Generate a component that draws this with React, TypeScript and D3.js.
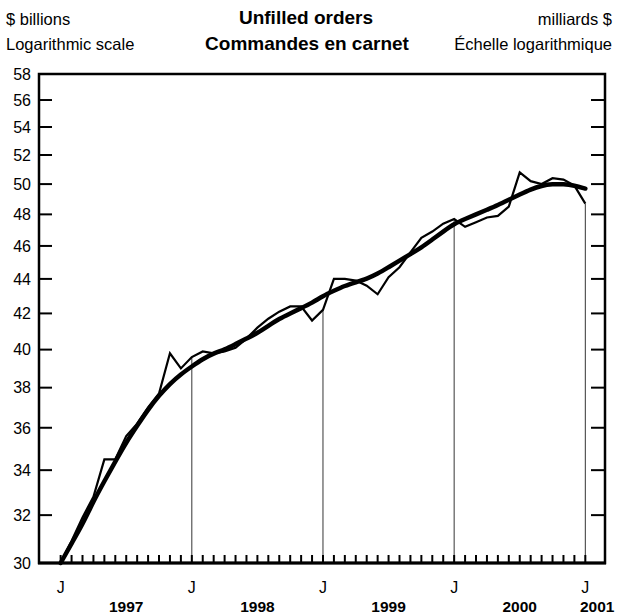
import React from 'react';
import * as d3 from 'd3';

const W = 618;
const H = 616;

const yTickValues = [30, 32, 34, 36, 38, 40, 42, 44, 46, 48, 50, 52, 54, 56, 58];
const yearLabels = ['1997', '1998', '1999', '2000', '2001'];
const monthLetter = 'J';

// Monthly unfilled orders, Jan 1997 .. Jan 2001 ($ billions)
const rawValues = [
  30.0, 30.9, 31.9, 32.8, 34.5, 34.5, 35.6, 36.2, 37.0, 37.7, 39.8, 39.0,
  39.6, 39.9, 39.8, 39.9, 40.1, 40.6, 41.2, 41.7, 42.1, 42.4, 42.4, 41.6,
  42.2, 44.0, 44.0, 43.9, 43.6, 43.1, 44.1, 44.7, 45.6, 46.5, 46.9, 47.4,
  47.7, 47.2, 47.5, 47.8, 47.9, 48.5, 50.8, 50.2, 50.0, 50.4, 50.3, 49.9,
  48.7,
];

// Smoothed trend
const trendValues = [
  30.0, 30.8, 31.6, 32.6, 33.5, 34.4, 35.3, 36.1, 36.9, 37.6, 38.2, 38.7,
  39.1, 39.5, 39.8, 40.0, 40.3, 40.6, 40.9, 41.3, 41.7, 42.0, 42.3, 42.6,
  43.0, 43.3, 43.6, 43.8, 44.0, 44.3, 44.7, 45.1, 45.5, 45.9, 46.4, 46.9,
  47.4, 47.7, 48.0, 48.3, 48.6, 48.95, 49.3, 49.65, 49.9, 50.0, 50.0, 49.9,
  49.7,
];

const dropLineMonths = [12, 24, 36, 48];

export default function App() {
  const left = 39;
  const right = 605;
  const top = 74;
  const bottom = 563;

  const x = d3.scaleLinear().domain([-1.98, 49.8]).range([left, right]);
  const y = d3.scaleLog().domain([30, 58]).range([bottom, top]);

  const rawLine = d3
    .line<number>()
    .x((_, i) => x(i))
    .y((d) => y(d))
    .curve(d3.curveLinear);

  const trendLine = d3
    .line<number>()
    .x((_, i) => x(i))
    .y((d) => y(d))
    .curve(d3.curveBasis);

  const months = d3.range(rawValues.length);
  const font = "'Liberation Sans', Arial, Helvetica, sans-serif";

  const yearX = yearLabels.map((_, k) =>
    k < yearLabels.length - 1 ? x(k * 12 + 6) : (x(k * 12) + right) / 2 + 2
  );

  return (
    <svg
      width={W}
      height={H}
      style={{ position: 'absolute', left: 0, top: 0, display: 'block', background: '#fff' }}
      fontFamily={font}
    >
      <rect x={0} y={0} width={W} height={H} fill="#fff" />
      {/* header */}
      <text x={6} y={25} fontSize={16.5}>$ billions</text>
      <text x={6} y={50} fontSize={16.5}>Logarithmic scale</text>
      <text x={306} y={24} fontSize={19} fontWeight="bold" textAnchor="middle">Unfilled orders</text>
      <text x={307} y={50} fontSize={19} fontWeight="bold" textAnchor="middle">Commandes en carnet</text>
      <text x={612} y={25} fontSize={16.5} textAnchor="end">milliards $</text>
      <text x={612} y={50} fontSize={16.5} textAnchor="end">Échelle logarithmique</text>

      {/* drop lines */}
      {dropLineMonths.map((m) => (
        <line key={m} x1={x(m)} x2={x(m)} y1={bottom} y2={y(rawValues[m])} stroke="#000" strokeWidth={0.8} />
      ))}

      {/* y ticks */}
      {yTickValues.map((v) => (
        <g key={v}>
          {v > 30 && v < 58 && (
            <>
              <line x1={left} x2={left + 13} y1={y(v)} y2={y(v)} stroke="#000" strokeWidth={2} />
              <line x1={right - 14} x2={right} y1={y(v)} y2={y(v)} stroke="#000" strokeWidth={2} />
            </>
          )}
          <text x={31} y={y(v)} dy="0.36em" fontSize={16} textAnchor="end">{v}</text>
        </g>
      ))}

      {/* month ticks */}
      {months.map((m) => (
        <line key={m} x1={x(m)} x2={x(m)} y1={bottom} y2={bottom - 8} stroke="#000" strokeWidth={2} />
      ))}

      {/* J labels */}
      {yearLabels.map((yr, k) => (
        <text key={'j' + yr} x={x(k * 12)} y={593} fontSize={16} textAnchor="middle">{monthLetter}</text>
      ))}
      {yearLabels.map((yr, k) => (
        <text key={yr} x={yearX[k]} y={612} fontSize={15.5} fontWeight="bold" textAnchor="middle">{yr}</text>
      ))}

      {/* series */}
      <path d={rawLine(rawValues) || ''} fill="none" stroke="#000" strokeWidth={2.2} strokeLinejoin="miter" />
      <path d={trendLine(trendValues) || ''} fill="none" stroke="#000" strokeWidth={4.5} strokeLinecap="round" />

      {/* frame */}
      <rect x={left} y={top} width={right - left} height={bottom - top} fill="none" stroke="#000" strokeWidth={2.5} />
      <line x1={left - 1} x2={right + 1} y1={bottom} y2={bottom} stroke="#000" strokeWidth={3} />
    </svg>
  );
}
